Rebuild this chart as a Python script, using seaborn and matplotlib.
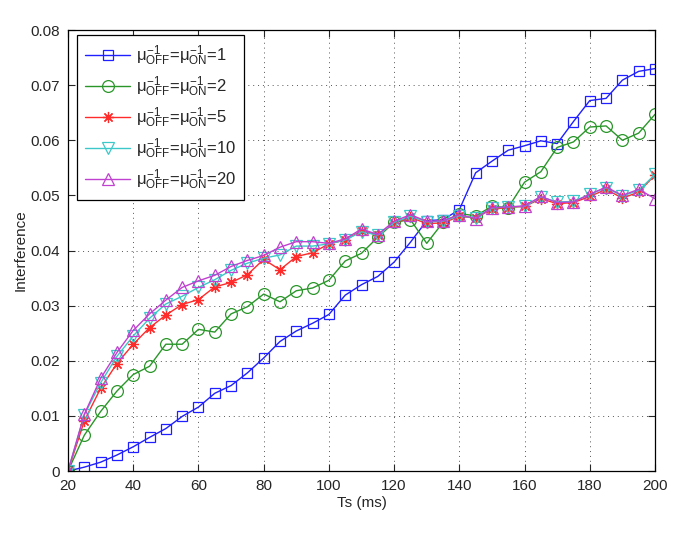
import matplotlib
matplotlib.use('Agg')

import pandas as pd
import matplotlib.pyplot as plt
import seaborn as sns

# Ts values (ms)
ts = list(range(20, 201, 5))

# interference, one list per mu setting
mu1 = [0, 0.0007, 0.0016, 0.0029, 0.0044, 0.0061, 0.0077, 0.0099, 0.0116, 0.0141,
       0.0155, 0.0178, 0.0205, 0.0235, 0.0254, 0.0268, 0.0284, 0.0319, 0.0338, 0.0353,
       0.0379, 0.0415, 0.0454, 0.0456, 0.0474, 0.0541, 0.0562, 0.0582, 0.0590, 0.0599,
       0.0594, 0.0634, 0.0672, 0.0676, 0.0709, 0.0725, 0.0730]
mu2 = [0, 0.0065, 0.0108, 0.0145, 0.0175, 0.0190, 0.0230, 0.0230, 0.0257, 0.0252,
       0.0285, 0.0298, 0.0321, 0.0307, 0.0327, 0.0332, 0.0346, 0.0381, 0.0395, 0.0424,
       0.0451, 0.0456, 0.0413, 0.0451, 0.0467, 0.0463, 0.0480, 0.0478, 0.0524, 0.0543,
       0.0587, 0.0597, 0.0624, 0.0626, 0.0600, 0.0613, 0.0647]
mu5 = [0, 0.0091, 0.0150, 0.0195, 0.0230, 0.0260, 0.0283, 0.0302, 0.0311, 0.0334,
       0.0342, 0.0356, 0.0384, 0.0365, 0.0389, 0.0396, 0.0412, 0.0419, 0.0436, 0.0428,
       0.0450, 0.0460, 0.0449, 0.0450, 0.0462, 0.0459, 0.0475, 0.0478, 0.0480, 0.0494,
       0.0485, 0.0487, 0.0498, 0.0511, 0.0495, 0.0506, 0.0537]
mu10 = [0, 0.0102, 0.0160, 0.0208, 0.0245, 0.0277, 0.0303, 0.0317, 0.0333, 0.0347,
        0.0364, 0.0377, 0.0386, 0.0392, 0.0408, 0.0408, 0.0412, 0.0419, 0.0434, 0.0428,
        0.0451, 0.0462, 0.0452, 0.0453, 0.0463, 0.0459, 0.0477, 0.0479, 0.0480, 0.0497,
        0.0488, 0.0489, 0.0502, 0.0514, 0.0499, 0.0509, 0.0538]
mu20 = [0, 0.0103, 0.0168, 0.0215, 0.0255, 0.0285, 0.0310, 0.0333, 0.0345, 0.0355,
        0.0371, 0.0382, 0.0391, 0.0406, 0.0416, 0.0416, 0.0413, 0.0421, 0.0439, 0.0429,
        0.0453, 0.0465, 0.0453, 0.0454, 0.0465, 0.0458, 0.0478, 0.0479, 0.0481, 0.0498,
        0.0487, 0.0488, 0.0502, 0.0515, 0.0500, 0.0511, 0.0494]

mu_values = [1, 2, 5, 10, 20]
series = [mu1, mu2, mu5, mu10, mu20]
colors = ['#1f1fff', '#2a962a', '#ff2a2a', '#3cc8c8', '#c040d0']
markers = ['s', 'o', (8, 2, 0), 'v', '^']   # (8,2,0) = matlab style asterisk
msizes = [7, 8.5, 8, 8, 8]

sns.set_theme(style="ticks")
plt.rcParams['font.family'] = ['Liberation Sans', 'DejaVu Sans']
plt.rcParams['mathtext.fontset'] = 'custom'
plt.rcParams['mathtext.rm'] = 'Liberation Sans'
plt.rcParams['mathtext.it'] = 'Liberation Sans'

fig = plt.figure(figsize=(6.85, 5.33), dpi=100)
ax = fig.add_axes([0.0993, 0.1163, 0.8569, 0.8274])

for mu, vals, c, m, ms in zip(mu_values, series, colors, markers, msizes):
    df = pd.DataFrame({"Ts": ts, "I": vals})
    label = r'$\mu_{\rm OFF}^{-1}$=$\mu_{\rm ON}^{-1}$=%d' % mu
    sns.lineplot(data=df, x="Ts", y="I", ax=ax, color=c, lw=1.0,
                 marker=m, markersize=ms, markerfacecolor='none',
                 markeredgecolor=c, markeredgewidth=0.9, label=label)

ax.set_xlim(20, 200)
ax.set_ylim(0, 0.08)
ax.set_xticks(range(20, 201, 20))
ax.set_yticks([0, 0.01, 0.02, 0.03, 0.04, 0.05, 0.06, 0.07, 0.08])
ax.set_yticklabels(['0', '0.01', '0.02', '0.03', '0.04', '0.05', '0.06', '0.07', '0.08'])
ax.grid(True, linestyle=(0, (1, 4)), color='#555555', linewidth=0.7)
ax.tick_params(direction='in', top=True, right=True, labelsize=11, length=5,
               width=0.8, pad=6)
for s in ax.spines.values():
    s.set_linewidth(0.9)
    s.set_color('black')
ax.set_xlabel("Ts (ms)", fontsize=11, labelpad=2)
ax.set_ylabel("Interference", fontsize=11, labelpad=2)

leg = ax.legend(loc='upper left', bbox_to_anchor=(0.015, 0.989), fontsize=12,
                frameon=True, fancybox=False, edgecolor='black', framealpha=1,
                borderaxespad=0, handlelength=2.7, labelspacing=0.4,
                borderpad=0.5, handletextpad=0.35)
leg.get_frame().set_linewidth(0.9)

plt.savefig("out.png", dpi=100)
